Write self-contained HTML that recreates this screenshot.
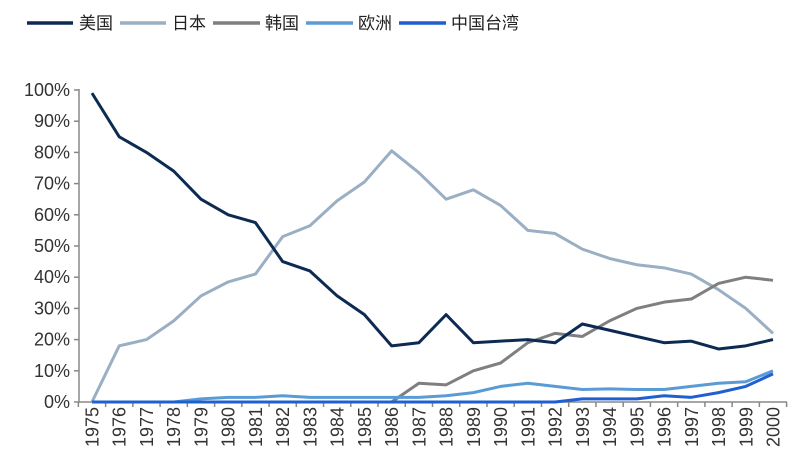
<!DOCTYPE html>
<html><head><meta charset="utf-8"><style>
body{margin:0;background:#fff;width:800px;height:468px;overflow:hidden}
svg text{font-family:"Liberation Sans",sans-serif;fill:#333}
.cj{font-family:"Liberation Sans","Noto Sans CJK SC",sans-serif;font-size:17px;fill:#222}
</style></head><body>
<svg id="s" width="800" height="468" xmlns="http://www.w3.org/2000/svg">
<g stroke-width="3.5">
<line x1="27" y1="23" x2="73" y2="23" stroke="#0d2a52"/>
<line x1="120" y1="23" x2="166" y2="23" stroke="#9aafc4"/>
<line x1="213" y1="23" x2="260" y2="23" stroke="#7f7f7f"/>
<line x1="306" y1="23" x2="353" y2="23" stroke="#5b9bd5"/>
<line x1="399" y1="23" x2="446" y2="23" stroke="#1f5fd0"/>
</g>
<text class="cj" x="79" y="29">美国</text>
<text class="cj" x="172" y="29">日本</text>
<text class="cj" x="265" y="29">韩国</text>
<text class="cj" x="358" y="29">欧洲</text>
<text class="cj" x="451" y="29">中国台湾</text>
</svg>
<script>
var s=document.getElementById('s'),NS='http://www.w3.org/2000/svg';
function el(t,a,txt){var e=document.createElementNS(NS,t);for(var k in a)e.setAttribute(k,a[k]);if(txt)e.textContent=txt;s.appendChild(e);return e;}
var x0=92,st=(773-92)/25,y0=402,py=3.12;
function X(i){return x0+i*st}function Y(v){return y0-v*py}
el('line',{x1:79,y1:89,x2:79,y2:y0,stroke:'#888','stroke-width':1.5});
el('line',{x1:79,y1:y0,x2:787,y2:y0,stroke:'#888','stroke-width':1.5});
for(var p=0;p<=100;p+=10){var y=Y(p);el('line',{x1:74,y1:y,x2:79,y2:y,stroke:'#888','stroke-width':1.5});
el('text',{x:70,y:y+6,'text-anchor':'end','font-size':'18'},p+'%');}
for(var i=0;i<=26;i++){var x=x0-st/2+i*st;el('line',{x1:x,y1:y0,x2:x,y2:y0+5,stroke:'#888','stroke-width':1.5});}
for(var i=0;i<26;i++){var x=X(i);el('text',{transform:'translate('+(x+6.5)+',407) rotate(-90)','text-anchor':'end','font-size':'18'},String(1975+i));}
var D=[
['#9aafc4',[0,18,20,26,34,38.5,41,53,56.5,64.5,70.5,80.5,73.5,65,68,63,55,54,49,46,44,43,41,36,30,22]],
['#7f7f7f',[0,0,0,0,0,0,0,0,0,0,0,0,6,5.5,10,12.5,19,22,21,26,30,32,33,38,40,39]],
['#0d2a52',[99,85,80,74,65,60,57.5,45,42,34,28,18,19,28,19,19.5,20,19,25,23,21,19,19.5,17,18,20]],
['#5b9bd5',[0,0,0,0,1,1.5,1.5,2,1.5,1.5,1.5,1.5,1.5,2,3,5,6,5,4,4.2,4,4,5,6,6.5,10]],
['#1f5fd0',[0,0,0,0,0,0,0,0,0,0,0,0,0,0,0,0,0,0,1,1,1,2,1.5,3,5,9]]];
D.forEach(function(d){el('polyline',{points:d[1].map(function(v,i){return X(i)+','+Y(v)}).join(' '),fill:'none',stroke:d[0],'stroke-width':3,'stroke-linejoin':'round'});});
</script>
</body></html>
